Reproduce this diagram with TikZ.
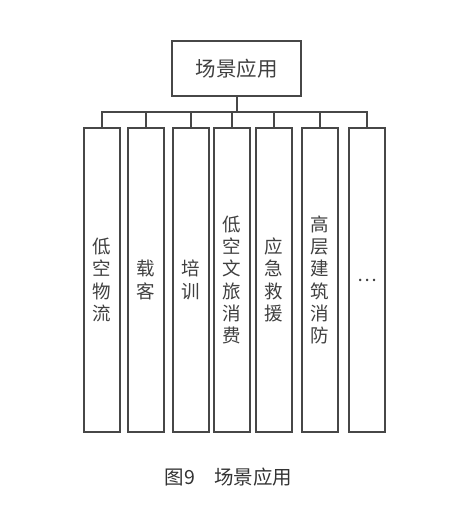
\documentclass[tikz,border=0pt]{standalone}
\usepackage{fontspec}
\newfontfamily\cjk{Noto Sans CJK SC}
\begin{document}
\begin{tikzpicture}[x=1pt,y=1pt,
  line/.style={draw=black!72, line width=1.4pt},
  topbox/.style={line, minimum width=129pt, minimum height=55pt, inner sep=0pt, font=\cjk\fontsize{20.5}{22}\selectfont, text=black!75},
  leaf/.style={line, minimum width=36pt, minimum height=304pt, inner sep=0pt, align=center, font=\cjk\fontsize{18.5}{22.3}\selectfont, text=black!75},
  captext/.style={font=\cjk\fontsize{19.5}{20}\selectfont, text=black!80}]
\useasboundingbox (0,0) rectangle (474,-512);
\node[topbox] (top) at (236.5,-68.5) {场景应用};
\coordinate (bus) at (237,-112);
\node[leaf] (b1) at (102,-280) {低\\空\\物\\流};
\node[leaf] (b2) at (146,-280) {载\\客};
\node[leaf] (b3) at (191,-280) {培\\训};
\node[leaf] (b4) at (232,-280) {低\\空\\文\\旅\\消\\费};
\node[leaf] (b5) at (274,-280) {应\\急\\救\\援};
\node[leaf] (b6) at (320,-280) {高\\层\\建\\筑\\消\\防};
\node[leaf] (b7) at (367,-280) {…};
\draw[line] (top.south -| bus) -- (bus);
\foreach \b in {b1,b2,b3,b4,b5,b6,b7} \draw[line] (bus) -| (\b.north);
\node[captext] (caption) at (228.5,-477) {图9\hspace{1em}场景应用};
\end{tikzpicture}
\end{document}
